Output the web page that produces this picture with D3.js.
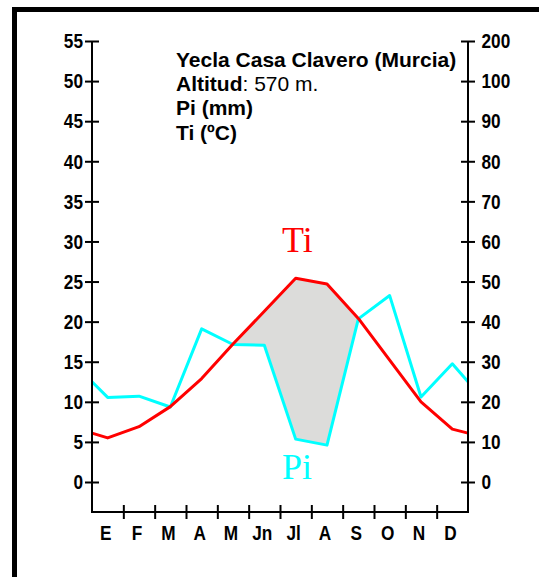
<!DOCTYPE html>
<html>
<head>
<meta charset="utf-8">
<script src="https://cdn.jsdelivr.net/npm/d3@7"></script>
<style>
  html, body { margin: 0; padding: 0; background: #fff; overflow: hidden; }
  svg { display: block; }
  .tick text, .mlab { font-family: "Liberation Sans", Arial, sans-serif; font-weight: bold; font-size: 21px; fill: #000; }
</style>
</head>
<body>
<svg id="chart" width="539" height="577"></svg>
<script>
// ---- data ----
const months = ["E", "F", "M", "A", "M", "Jn", "Jl", "A", "S", "O", "N", "D"];
const tempValues = [5.5, 6.9, 9.4, 12.9, 17.2, 21.3, 25.4, 24.7, 20.4, 15.2, 10.0, 6.6];   // Ti (ºC)
const precipValues = [21.1, 21.4, 18.7, 38.2, 34.3, 34.1, 10.7, 9.2, 40.7, 46.5, 21.2, 29.5]; // Pi (mm)
const tempEdge = 6.1;     // value drawn at the chart edges
const precipEdge = 25.0;
const tempTicks = [0, 5, 10, 15, 20, 25, 30, 35, 40, 45, 50, 55];
const precipTicks = [0, 10, 20, 30, 40, 50, 60, 70, 80, 90, 100, 200];
const titleLines = ["Yecla Casa Clavero (Murcia)", "Altitud", ": 570 m.", "Pi (mm)", "Ti (ºC)"];

// ---- layout ----
const svg = d3.select("#chart");
const xLeft = 92, xRight = 468, yBase = 512;
const sx = 0.82; // horizontal condensing of axis labels
const x = d3.scaleLinear().domain([0, 12]).range([xLeft, xRight]);
const yT = d3.scaleLinear().domain([0, 55]).range([482, 41]);
const yP = d3.scaleLinear().domain([0, 100, 200]).range([yT(0), yT(50), yT(55)]);

// frame
svg.append("rect").attr("x", 14.5).attr("y", 9.5).attr("width", 600).attr("height", 700)
  .attr("fill", "none").attr("stroke", "#000").attr("stroke-width", 5);

// series points (with edges)
const tPts = [[0, tempEdge]].concat(tempValues.map((v, i) => [i + 0.5, v]), [[12, tempEdge]]);
const pPts = [[0, precipEdge]].concat(precipValues.map((v, i) => [i + 0.5, v]), [[12, precipEdge]]);

// arid area: between Ti curve (above) and Pi curve (below)
const defs = svg.append("defs");
defs.append("clipPath").attr("id", "belowP")
  .append("path")
  .attr("d", d3.area().x(d => x(d[0])).y0(0).y1(d => yP(d[1]))(pPts));
svg.append("path")
  .attr("clip-path", "url(#belowP)")
  .attr("fill", "#dcdcda")
  .attr("d", d3.area().x(d => x(d[0])).y0(yBase).y1(d => yT(d[1]))(tPts));

// lines
svg.append("path").datum(pPts)
  .attr("fill", "none").attr("stroke", "#00ffff").attr("stroke-width", 3).attr("stroke-linejoin", "round")
  .attr("d", d3.line().x(d => x(d[0])).y(d => yP(d[1])));
svg.append("path").datum(tPts)
  .attr("fill", "none").attr("stroke", "#ff0000").attr("stroke-width", 3).attr("stroke-linejoin", "round")
  .attr("d", d3.line().x(d => x(d[0])).y(d => yT(d[1])));

// axes
function styleTicks(g) {
  g.select(".domain").remove();
  g.selectAll(".tick line").attr("stroke", "#000").attr("stroke-width", 2);
}
const gl = svg.append("g").attr("transform", `translate(${xLeft},0)`)
  .call(d3.axisLeft(yT).tickValues(tempTicks).tickSize(7).tickFormat(d3.format("d")));
styleTicks(gl);
gl.selectAll(".tick line").attr("x1", 7).attr("x2", -7);
gl.selectAll(".tick text").attr("x", 0).attr("transform", `translate(-9,0) scale(${sx},1)`);

const gr = svg.append("g").attr("transform", `translate(${xRight},0)`)
  .call(d3.axisRight(yP).tickValues(precipTicks).tickSize(7).tickFormat(d3.format("d")));
styleTicks(gr);
gr.selectAll(".tick line").attr("x1", -7).attr("x2", 7);
gr.selectAll(".tick text").attr("x", 0).attr("transform", `translate(13.5,0) scale(${sx},1)`);

const gb = svg.append("g").attr("transform", `translate(0,${yBase})`)
  .call(d3.axisBottom(x).tickValues(d3.range(1, 12)).tickSize(7).tickFormat(""));
styleTicks(gb);
gb.selectAll(".tick line").attr("y1", -7).attr("y2", 7);

// axis lines
svg.append("path")
  .attr("d", `M${xLeft},${yT(55)}V${yBase}H${xRight}V${yT(55)}`)
  .attr("fill", "none").attr("stroke", "#000").attr("stroke-width", 2);

// month labels
svg.selectAll(".mlab").data(months).enter().append("text")
  .attr("class", "mlab")
  .attr("text-anchor", "middle")
  .attr("transform", (d, i) => `translate(${x(i + 0.5) - 2},540) scale(${sx},1)`)
  .text(d => d);

// title block
const tf = "Liberation Sans, Arial, sans-serif";
const tb = svg.append("g").attr("font-family", tf).attr("font-size", 21).attr("fill", "#000");
tb.append("text").attr("x", 176).attr("y", 67).attr("font-weight", "bold").text(titleLines[0]);
const t2 = tb.append("text").attr("x", 176).attr("y", 91);
t2.append("tspan").attr("font-weight", "bold").text(titleLines[1]);
t2.append("tspan").text(titleLines[2]);
tb.append("text").attr("x", 176).attr("y", 115).attr("font-weight", "bold").text(titleLines[3]);
tb.append("text").attr("x", 176).attr("y", 140).attr("font-weight", "bold").text(titleLines[4]);

// series labels
svg.append("text").attr("x", 282).attr("y", 252)
  .attr("font-family", "Liberation Serif, Times New Roman, serif").attr("font-size", 36)
  .attr("fill", "#ff0000").text("Ti");
svg.append("text").attr("x", 282).attr("y", 479)
  .attr("font-family", "Liberation Serif, Times New Roman, serif").attr("font-size", 36)
  .attr("fill", "#00ffff").text("Pi");
</script>
</body>
</html>
